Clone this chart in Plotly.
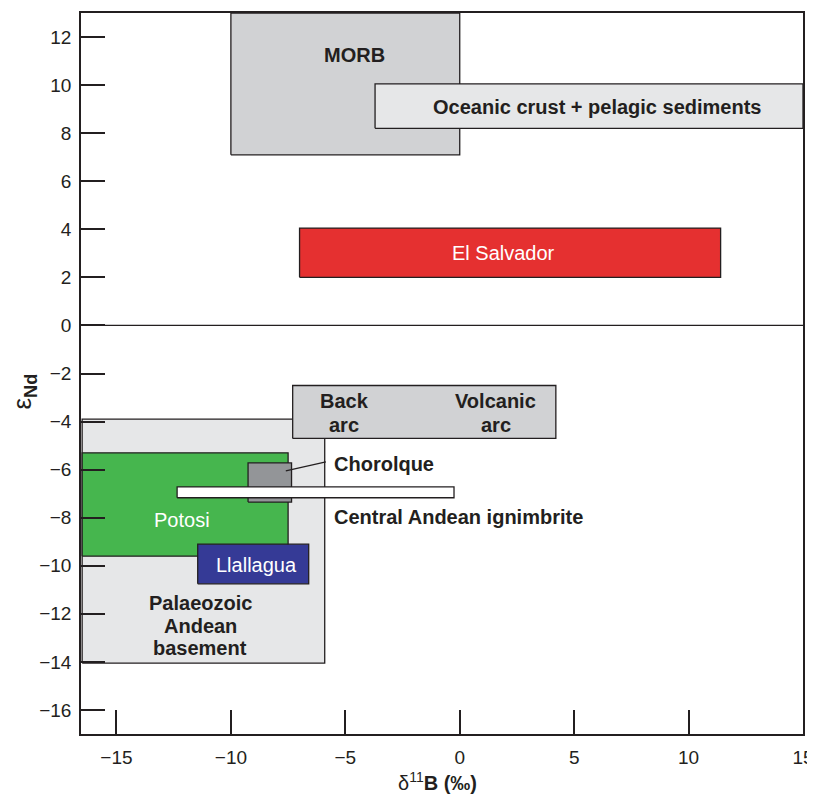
import plotly.graph_objects as go

# Field boxes: name, x0, x1, y0, y1 (δ11B ‰, εNd)
names = ["Palaeozoic Andean basement", "MORB", "Oceanic crust + pelagic sediments",
         "El Salvador", "Back arc / Volcanic arc", "Potosi", "Llallagua",
         "Chorolque", "Central Andean ignimbrite"]
x_min = [-16.5, -10.0, -3.7, -7.0, -7.3, -16.5, -11.45, -9.25, -12.35]
x_max = [-5.9, 0.0, 15.0, 11.4, 4.2, -7.5, -6.6, -7.35, -0.25]
y_min = [-14.05, 7.1, 8.2, 2.0, -4.7, -9.6, -10.75, -7.35, -7.17]
y_max = [-3.9, 13.0, 10.05, 4.05, -2.5, -5.3, -9.1, -5.72, -6.72]
fills = ["#e6e7e8", "#d1d2d4", "#e6e7e8", "#e53030", "#d1d2d4", "#46b64e",
         "#353a96", "#939598", "#ffffff"]

# Text labels (one entry per text line)
lab_text = ["MORB", "Oceanic crust + pelagic sediments", "El Salvador",
            "Back", "arc", "Volcanic", "arc",
            "Chorolque", "Central Andean ignimbrite", "Potosi", "Llallagua",
            "Palaeozoic", "Andean", "basement"]
lab_x = [-4.6, 6.0, 1.9, -5.05, -5.05, 1.57, 1.57, -5.6, -5.6, -12.15, -8.9,
         -11.35, -11.35, -11.35]
lab_y = [11.25, 9.1, 3.0, -3.14, -4.14, -3.14, -4.14, -5.75, -7.95, -8.1, -9.98,
         -11.54, -12.49, -13.41]
lab_bold = [True, True, False, True, True, True, True, True, True, False, False,
            True, True, True]
lab_color = ["#231f20", "#231f20", "#ffffff", "#231f20", "#231f20", "#231f20",
             "#231f20", "#231f20", "#231f20", "#ffffff", "#ffffff", "#231f20",
             "#231f20", "#231f20"]
lab_anchor = ["center", "center", "center", "center", "center", "center", "center",
              "left", "left", "center", "center", "center", "center", "center"]

# Chorolque leader line
lead_x = [-7.6, -5.85]
lead_y = [-6.05, -5.68]

x_ticks = [-15, -10, -5, 0, 5, 10, 15]
y_ticks = [-16, -14, -12, -10, -8, -6, -4, -2, 0, 2, 4, 6, 8, 10, 12]

FONT = "Liberation Sans, Arial, sans-serif"
INK = "#231f20"
fig = go.Figure()

for n, a, b, c, d, f in zip(names, x_min, x_max, y_min, y_max, fills):
    fig.add_trace(go.Scatter(
        x=[a, b, b, a, a], y=[c, c, d, d, c], mode="lines", fill="toself",
        fillcolor=f, line=dict(color=INK, width=1.3), name=n,
        hoverinfo="name", showlegend=False))

fig.add_trace(go.Scatter(x=lead_x, y=lead_y, mode="lines",
                         line=dict(color=INK, width=1.2),
                         showlegend=False, hoverinfo="skip"))

for t, x, y, bold, col, anc in zip(lab_text, lab_x, lab_y, lab_bold, lab_color, lab_anchor):
    fig.add_annotation(x=x, y=y, text=f"<b>{t}</b>" if bold else t, showarrow=False,
                       xanchor=anc, yanchor="middle",
                       font=dict(family=FONT, size=20, color=col))

# axis titles
fig.add_annotation(xref="paper", yref="paper", x=0.494, y=-0.066,
                   text="δ<sup>11</sup><b>B (‰)</b>", showarrow=False,
                   xanchor="center", yanchor="middle",
                   font=dict(family=FONT, size=20, color=INK))
fig.add_annotation(xref="paper", yref="paper", x=-0.079, y=0.475,
                   text="ε<sub><b>Nd</b></sub>", showarrow=False, textangle=-90,
                   xanchor="center", yanchor="middle",
                   font=dict(family=FONT, size=26, color=INK))

# zero line
fig.add_shape(type="line", xref="paper", x0=0, x1=1, y0=0, y1=0,
              line=dict(color=INK, width=1.3))

fig.update_xaxes(range=[-16.55, 15], tickvals=x_ticks, ticks="inside", ticklen=24,
                 tickwidth=1.5, tickcolor=INK, showgrid=False, zeroline=False,
                 showline=True, linecolor=INK, linewidth=1.5, mirror=True,
                 automargin=False, ticklabelstandoff=5, ticklabeloverflow="allow",
                 tickfont=dict(family=FONT, size=19, color=INK))
fig.update_yaxes(range=[-17, 13], tickvals=y_ticks, ticks="inside", ticklen=24,
                 tickwidth=1.5, tickcolor=INK, showgrid=False, zeroline=False,
                 showline=True, linecolor=INK, linewidth=1.5, mirror=True,
                 automargin=False, ticklabelstandoff=4,
                 tickfont=dict(family=FONT, size=19, color=INK))

# page body has an 8 px margin, so the figure is offset by 8 px
fig.update_layout(width=807, height=788, plot_bgcolor="white", paper_bgcolor="white",
                  margin=dict(l=73, r=12, t=5, b=62), showlegend=False)

fig.write_html("out.html")
